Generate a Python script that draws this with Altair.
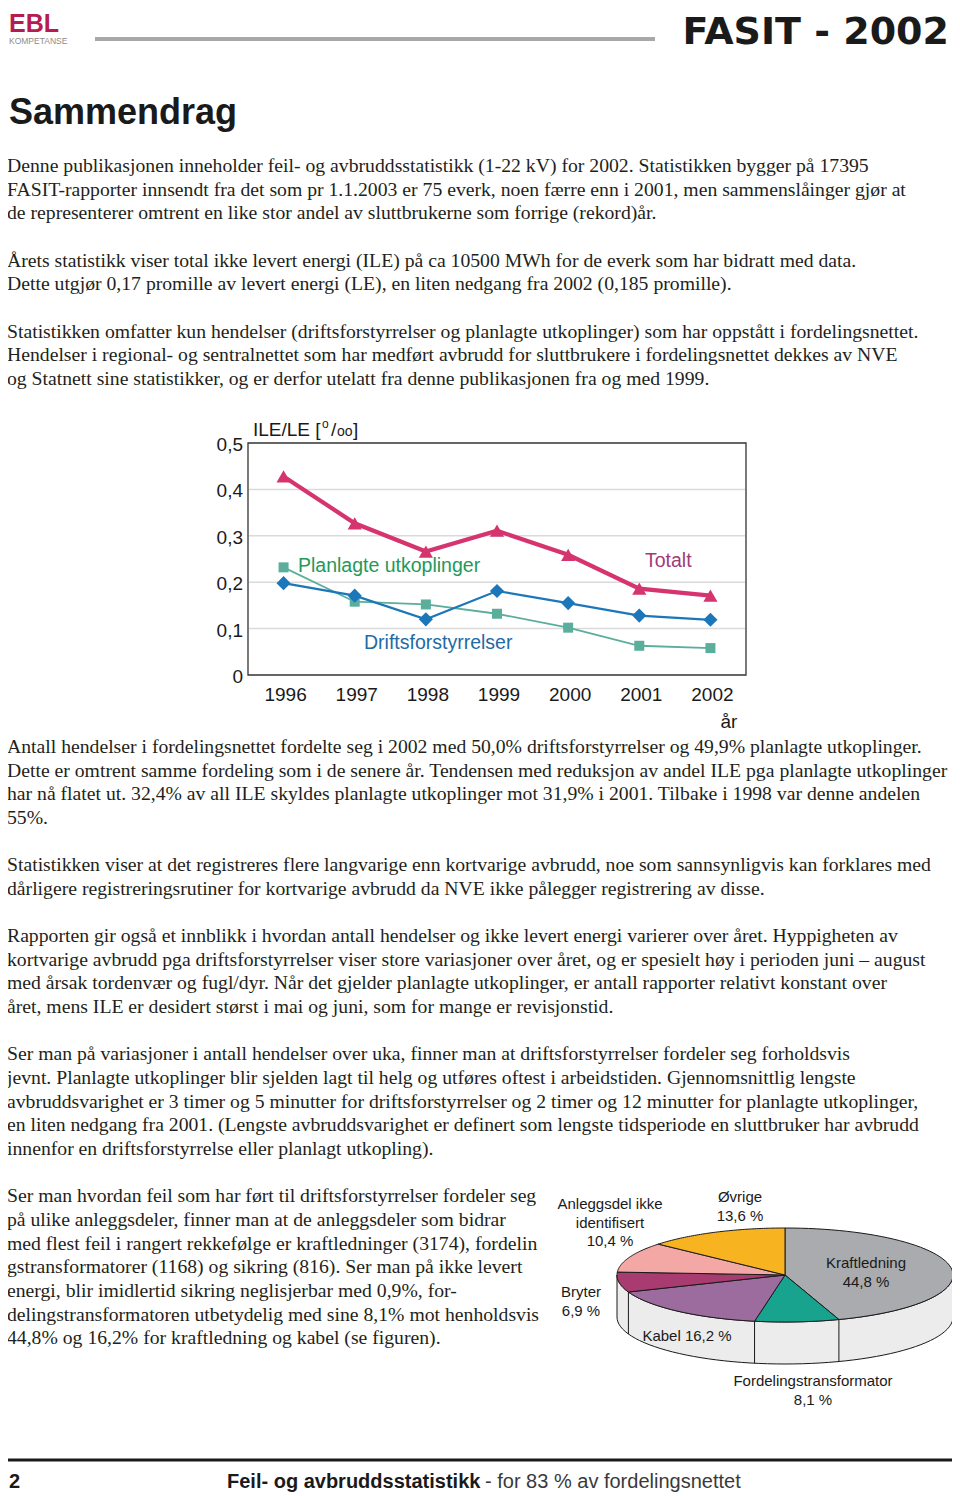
import altair as alt
import pandas as pd

# ---------------- data ----------------
years = [1996, 1997, 1998, 1999, 2000, 2001, 2002]
totalt = [0.428, 0.327, 0.266, 0.311, 0.259, 0.186, 0.171]
drift = [0.198, 0.171, 0.120, 0.181, 0.155, 0.128, 0.119]
planlagt = [0.232, 0.158, 0.152, 0.132, 0.102, 0.063, 0.058]
series_names = ["Planlagte utkoplinger", "Driftsforstyrrelser", "Totalt"]
y_ticks = [0.0, 0.1, 0.2, 0.3, 0.4, 0.5]
y_tick_labels = ["0", "0,1", "0,2", "0,3", "0,4", "0,5"]
grid_ticks = [0.1, 0.2, 0.3, 0.4]

pie_parts = ["Kraftledning", "Fordelingstransformator", "Kabel", "Bryter",
             "Anleggsdel ikke identifisert", "Øvrige"]
pie_shares = [44.8, 8.1, 16.2, 6.9, 10.4, 13.6]
pie_colors = ["#a9abae", "#17a38e", "#9c6c9e", "#a83b70", "#f4a8a6", "#f8b320"]

paras_a = [
    ["Denne publikasjonen inneholder feil- og avbruddsstatistikk (1-22 kV) for 2002. Statistikken bygger på 17395",
     "FASIT-rapporter innsendt fra det som pr 1.1.2003 er 75 everk, noen færre enn i 2001, men sammenslåinger gjør at",
     "de representerer omtrent en like stor andel av sluttbrukerne som forrige (rekord)år."],
    ["Årets statistikk viser total ikke levert energi (ILE) på ca 10500 MWh for de everk som har bidratt med data.",
     "Dette utgjør 0,17 promille av levert energi (LE), en liten nedgang fra 2002 (0,185 promille)."],
    ["Statistikken omfatter kun hendelser (driftsforstyrrelser og planlagte utkoplinger) som har oppstått i fordelingsnettet.",
     "Hendelser i regional- og sentralnettet som har medført avbrudd for sluttbrukere i fordelingsnettet dekkes av NVE",
     "og Statnett sine statistikker, og er derfor utelatt fra denne publikasjonen fra og med 1999."],
]
paras_b = [
    ["Antall hendelser i fordelingsnettet fordelte seg i 2002 med 50,0% driftsforstyrrelser og 49,9% planlagte utkoplinger.",
     "Dette er omtrent samme fordeling som i de senere år. Tendensen med reduksjon av andel ILE pga planlagte utkoplinger",
     "har nå flatet ut. 32,4% av all ILE skyldes planlagte utkoplinger mot 31,9% i 2001. Tilbake i 1998 var denne andelen",
     "55%."],
    ["Statistikken viser at det registreres flere langvarige enn kortvarige avbrudd, noe som sannsynligvis kan forklares med",
     "dårligere registreringsrutiner for kortvarige avbrudd da NVE ikke pålegger registrering av disse."],
    ["Rapporten gir også et innblikk i hvordan antall hendelser og ikke levert energi varierer over året. Hyppigheten av",
     "kortvarige avbrudd pga driftsforstyrrelser viser store variasjoner over året, og er spesielt høy i perioden juni – august",
     "med årsak tordenvær og fugl/dyr. Når det gjelder planlagte utkoplinger, er antall rapporter relativt konstant over",
     "året, mens ILE er desidert størst i mai og juni, som for mange er revisjonstid."],
    ["Ser man på variasjoner i antall hendelser over uka, finner man at driftsforstyrrelser fordeler seg forholdsvis",
     "jevnt. Planlagte utkoplinger blir sjelden lagt til helg og utføres oftest i arbeidstiden. Gjennomsnittlig lengste",
     "avbruddsvarighet er 3 timer og 5 minutter for driftsforstyrrelser og 2 timer og 12 minutter for planlagte utkoplinger,",
     "en liten nedgang fra 2001. (Lengste avbruddsvarighet er definert som lengste tidsperiode en sluttbruker har avbrudd",
     "innenfor en driftsforstyrrelse eller planlagt utkopling)."],
    ["Ser man hvordan feil som har ført til driftsforstyrrelser fordeler seg",
     "på ulike anleggsdeler, finner man at de anleggsdeler som bidrar",
     "med flest feil i rangert rekkefølge er kraftledninger (3174), fordelin",
     "gstransformatorer  (1168) og sikring (816). Ser man på ikke levert",
     "energi, blir imidlertid sikring neglisjerbar med 0,9%, for-",
     "delingstransformatoren utbetydelig med sine 8,1% mot henholdsvis",
     "44,8% og 16,2% for kraftledning og kabel (se figuren)."],
]

# ---------------- layout helpers ----------------
W, H = 944, 1486
M = 8
SERIF = "Liberation Serif"
SANS = "Liberation Sans"
INK = "#231f20"


def px(v):
    return v - M


def one():
    return pd.DataFrame({"_": [0]})


def text_at(text, x, y, size, font=SANS, color=INK, weight="normal",
            align="left", lh=None):
    kw = dict(align=align, baseline="middle", fontSize=size, font=font,
              fontWeight=weight, color=color)
    if lh:
        kw.update(lineBreak="\n", lineHeight=lh)
    return (alt.Chart(pd.DataFrame({"t": [text]}))
            .mark_text(**kw)
            .encode(x=alt.value(px(x)), y=alt.value(px(y)), text="t:N"))


def paragraphs(paras, x, y0, size, lh):
    out = []
    row = 0
    for p in paras:
        out.append(text_at("\n".join(p), x, y0 + row * lh, size, font=SERIF, lh=lh))
        row += len(p) + 1
    return out


layers = []

# ---------------- header ----------------
layers.append(text_at("EBL", 9, 24, 25, font=SANS, color="#b71c50", weight="bold"))
layers.append(text_at("KOMPETANSE", 9, 41, 8.5, font=SANS, color="#8c8c8c"))
layers.append(alt.Chart(one()).mark_rule(color="#a8a8a8", strokeWidth=4).encode(
    x=alt.value(px(95)), x2=alt.value(px(655)), y=alt.value(px(39))))
layers.append(text_at("FASIT - 2002", 949, 32.5, 38, font="DejaVu Sans", weight="bold",
                      color="#1a1a1a", align="right"))
layers.append(text_at("Sammendrag", 9, 113, 36, font=SANS, weight="bold", color="#1a1a1a"))

# ---------------- body text ----------------
LH = 23.65
FS = 19.7
layers += paragraphs(paras_a, 7, 166, FS, LH)
layers += paragraphs(paras_b, 7, 747, FS, LH)

# ---------------- line chart ----------------
xs = alt.Scale(domain=[1995.5, 2002.5], range=[px(248), px(746)], nice=False, zero=False)
ys = alt.Scale(domain=[0, 0.5], range=[px(675), px(443)], nice=False, zero=False)

layers.append(alt.Chart(one()).mark_rect(fill="white", stroke="#333333", strokeWidth=1.3).encode(
    x=alt.value(px(248)), x2=alt.value(px(746)), y=alt.value(px(443)), y2=alt.value(px(675))))

grid_df = pd.DataFrame({"v": grid_ticks})
layers.append(alt.Chart(grid_df).mark_rule(color="#dadada", strokeWidth=1.5).encode(
    x=alt.value(px(249)), x2=alt.value(px(745)),
    y=alt.Y("v:Q", scale=ys, axis=None)))

tick_df = pd.DataFrame({"v": y_ticks, "lab": y_tick_labels})
layers.append(alt.Chart(tick_df).mark_text(align="right", baseline="middle", fontSize=19,
                                           font=SANS, color="#1a1a1a", dy=2).encode(
    x=alt.value(px(243)), y=alt.Y("v:Q", scale=ys, axis=None), text="lab:N"))

year_df = pd.DataFrame({"year": years, "lab": [str(y) for y in years]})
layers.append(alt.Chart(year_df).mark_text(align="center", baseline="middle", fontSize=19,
                                           font=SANS, color="#1a1a1a", dx=2).encode(
    x=alt.X("year:Q", scale=xs, axis=None), y=alt.value(px(695)), text="lab:N"))
layers.append(text_at("år", 729, 722, 19, font=SANS, color="#1a1a1a", align="center"))

# y axis title ILE/LE [o/oo]
layers.append(text_at("ILE/LE [", 253, 430, 19, font=SANS, color="#1a1a1a"))
layers.append(text_at("o", 322, 424, 12, font=SANS, color="#1a1a1a"))
layers.append(text_at("/", 331, 430, 19, font=SANS, color="#1a1a1a"))
layers.append(text_at("oo", 337, 432, 14, font=SANS, color="#1a1a1a"))
layers.append(text_at("]", 353, 430, 19, font=SANS, color="#1a1a1a"))

series_df = pd.DataFrame({
    "year": years * 3,
    "value": planlagt + drift + totalt,
    "serie": [series_names[0]] * 7 + [series_names[1]] * 7 + [series_names[2]] * 7,
})
series_style = {
    "Planlagte utkoplinger": ("#5aae9b", 1.8, "square", 100),
    "Driftsforstyrrelser": ("#1b77b9", 2.2, "diamond", 200),
    "Totalt": ("#d5346f", 4.2, "triangle-up", 200),
}
for name in series_names:
    col, sw, shape, size = series_style[name]
    base = alt.Chart(series_df).transform_filter(alt.datum.serie == name).encode(
        x=alt.X("year:Q", scale=xs, axis=None),
        y=alt.Y("value:Q", scale=ys, axis=None))
    layers.append(base.mark_line(color=col, strokeWidth=sw))
    layers.append(base.mark_point(shape=shape, size=size, filled=True, color=col, opacity=1))

layers.append(text_at("Planlagte utkoplinger", 298, 566, 19.5, color="#23995a"))
layers.append(text_at("Driftsforstyrrelser", 364, 643, 19.5, color="#1e6ba6"))
layers.append(text_at("Totalt", 645, 561, 19.5, color="#a13a76"))

# ---------------- pie chart (tilted) ----------------
CX, CY, RX, RY, DEPTH = 785, 1275, 168, 47, 42
D = DEPTH / RY
N = 60
pxs = alt.Scale(domain=[-1, 1], range=[px(CX - RX), px(CX + RX)], nice=False, zero=False)
pys = alt.Scale(domain=[-1, 1], range=[px(CY + RY), px(CY - RY)], nice=False, zero=False)

pie = pd.DataFrame({"part": pie_parts, "share": pie_shares})
pie["end"] = pie["share"].cumsum()
pie["start"] = pie["end"] - pie["share"]

# side wall (front half of the cylinder)
side = pd.DataFrame({"o": list(range(0, 2 * N + 2))})
side_ang = f"(datum.o <= {N} ? (90 + 180 * datum.o / {N}) : (270 - 180 * (datum.o - {N} - 1) / {N})) * PI / 180"
layers.append(
    alt.Chart(side)
    .transform_calculate(a=side_ang)
    .transform_calculate(ux="sin(datum.a)", uy=f"cos(datum.a) - (datum.o > {N} ? {D} : 0)")
    .mark_line(interpolate="linear-closed", fill="#ececec", stroke="#1a1a1a", strokeWidth=1)
    .encode(x=alt.X("ux:Q", scale=pxs, axis=None), y=alt.Y("uy:Q", scale=pys, axis=None),
            order=alt.Order("o:Q"))
)
layers.append(
    alt.Chart(pie)
    .transform_filter("datum.end > 25 && datum.end < 75")
    .transform_calculate(a="datum.end * PI / 50")
    .transform_calculate(ux="sin(datum.a)", uy="cos(datum.a)", uy2=f"cos(datum.a) - {D}")
    .mark_rule(color="#1a1a1a", strokeWidth=1)
    .encode(x=alt.X("ux:Q", scale=pxs, axis=None), y=alt.Y("uy:Q", scale=pys, axis=None),
            y2="uy2:Q")
)

steps = pd.DataFrame({"k": list(range(-1, N + 1))})
pie_pts = pie.merge(steps, how="cross")
ang = f"(datum.start + datum.share * datum.k / {N}) * PI / 50"
layers.append(
    alt.Chart(pie_pts)
    .transform_calculate(ux=f"datum.k < 0 ? 0 : sin({ang})", uy=f"datum.k < 0 ? 0 : cos({ang})")
    .mark_line(interpolate="linear-closed", stroke="#1a1a1a", strokeWidth=1, strokeJoin="round")
    .encode(x=alt.X("ux:Q", scale=pxs, axis=None), y=alt.Y("uy:Q", scale=pys, axis=None),
            fill=alt.Fill("part:N", scale=alt.Scale(domain=pie_parts, range=pie_colors), legend=None),
            detail="part:N", order=alt.Order("k:Q"))
)

PL = 18.5
layers.append(text_at("Anleggsdel ikke\nidentifisert\n10,4 %", 610, 1204, 15, align="center", lh=PL, color="#1a1a1a"))
layers.append(text_at("Øvrige\n13,6 %", 740, 1197, 15, align="center", lh=PL, color="#1a1a1a"))
layers.append(text_at("Kraftledning\n44,8 %", 866, 1263, 15, align="center", lh=PL, color="#1a1a1a"))
layers.append(text_at("Bryter\n6,9 %", 581, 1292, 15, align="center", lh=PL, color="#1a1a1a"))
layers.append(text_at("Kabel 16,2 %", 687, 1336, 15, align="center", color="#1a1a1a"))
layers.append(text_at("Fordelingstransformator\n8,1 %", 813, 1381, 15, align="center", lh=PL, color="#1a1a1a"))

# ---------------- footer ----------------
layers.append(alt.Chart(one()).mark_rule(color="#1a1a1a", strokeWidth=3).encode(
    x=alt.value(0), x2=alt.value(W), y=alt.value(px(1460))))
layers.append(text_at("2", 9, 1482, 20, weight="bold", color="#1a1a1a"))
layers.append(text_at("Feil- og avbruddsstatistikk", 227, 1482, 20, weight="bold", color="#1a1a1a"))
layers.append(text_at("- for 83 % av fordelingsnettet", 485, 1482, 20, color="#3a3a3a"))

chart = (
    alt.layer(*layers)
    .resolve_scale(x="independent", y="independent", fill="independent", color="independent")
    .properties(width=W, height=H, padding=0, autosize=alt.AutoSizeParams(type="none"),
                background="white")
    .configure_view(stroke=None)
)

chart.save("out.html", embed_options={"renderer": "svg", "actions": False})
